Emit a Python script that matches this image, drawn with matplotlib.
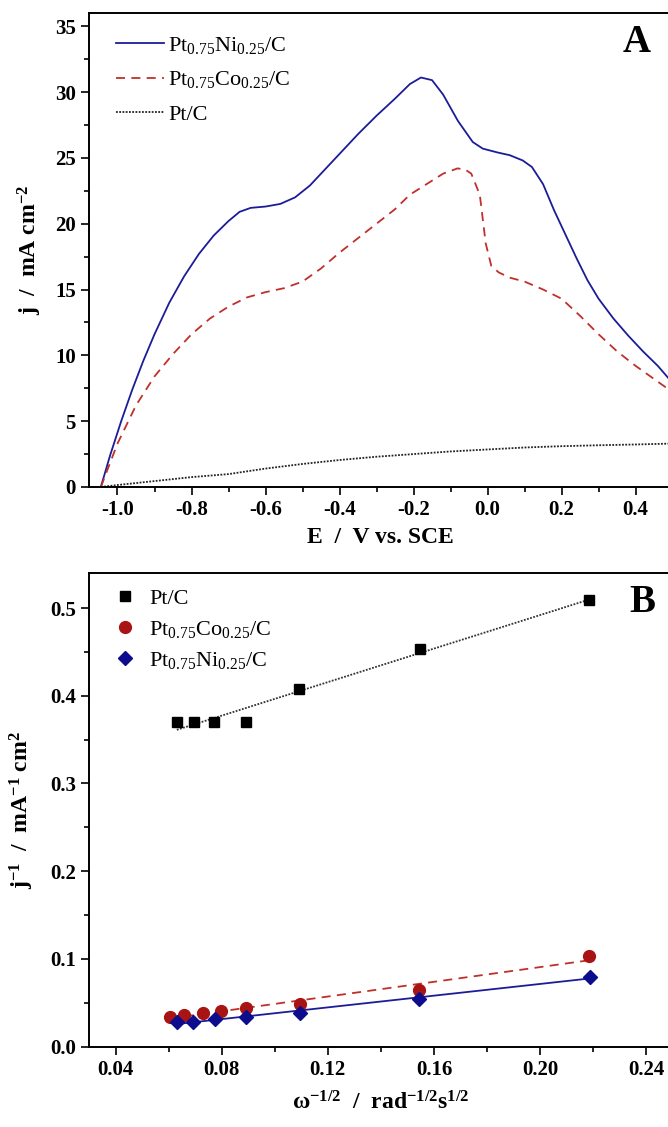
import numpy as np
import matplotlib
matplotlib.use("Agg")
import matplotlib.pyplot as plt
from matplotlib.ticker import MultipleLocator

plt.rcParams['font.family'] = ['Liberation Serif', 'DejaVu Serif']
plt.rcParams['mathtext.fontset'] = 'custom'
plt.rcParams['mathtext.rm'] = 'Liberation Serif'
plt.rcParams['mathtext.it'] = 'Liberation Serif:italic'
plt.rcParams['mathtext.bf'] = 'Liberation Serif:bold'
plt.rcParams['axes.unicode_minus'] = False

# ---------------- Panel A data ----------------
E_ni = [-1.045, -1.02, -0.99, -0.96, -0.93, -0.90, -0.86, -0.82, -0.78, -0.74, -0.70, -0.67, -0.64,
        -0.60, -0.56, -0.52, -0.48, -0.44, -0.40, -0.35, -0.30, -0.25, -0.21, -0.18, -0.15,
        -0.12, -0.08, -0.04, -0.013, 0.028, 0.06, 0.095, 0.12, 0.15, 0.18, 0.21, 0.24, 0.27,
        0.30, 0.34, 0.38, 0.42, 0.46, 0.50]
j_ni = [0.0, 2.4, 5.0, 7.4, 9.6, 11.6, 14.0, 16.0, 17.7, 19.1, 20.2, 20.9, 21.2,
        21.3, 21.5, 22.0, 22.9, 24.1, 25.3, 26.8, 28.2, 29.5, 30.6, 31.1, 30.9,
        29.8, 27.8, 26.2, 25.7, 25.4, 25.2, 24.8, 24.3, 23.0, 21.0, 19.2, 17.4, 15.7,
        14.3, 12.8, 11.5, 10.3, 9.2, 7.9]

E_co = [-1.045, -1.0, -0.95, -0.90, -0.85, -0.80, -0.75, -0.70, -0.65, -0.60, -0.55, -0.50,
        -0.45, -0.40, -0.35, -0.30, -0.25, -0.21, -0.165, -0.12, -0.081, -0.06, -0.044, -0.021,
        -0.005, 0.01, 0.03, 0.06, 0.10, 0.15, 0.20, 0.25, 0.30, 0.35, 0.40, 0.45, 0.50]
j_co = [0.0, 3.3, 6.2, 8.4, 10.1, 11.6, 12.8, 13.7, 14.4, 14.8, 15.1, 15.6,
        16.6, 17.8, 18.9, 20.0, 21.1, 22.2, 23.0, 23.8, 24.2, 24.1, 23.8, 22.2,
        18.5, 16.8, 16.3, 15.9, 15.6, 15.0, 14.3, 13.0, 11.6, 10.3, 9.2, 8.2, 7.2]

E_pt = [-1.045, -1.0, -0.9, -0.8, -0.7, -0.6, -0.5, -0.4, -0.3, -0.2, -0.1, 0.0, 0.1, 0.2, 0.3, 0.4, 0.5]
j_pt = [0.0, 0.15, 0.45, 0.75, 0.98, 1.4, 1.75, 2.05, 2.3, 2.5, 2.7, 2.85, 3.0, 3.1, 3.17, 3.23, 3.3]

# ---------------- Panel B data ----------------
w_pt = [0.0631, 0.0694, 0.0772, 0.0892, 0.1093, 0.1546, 0.2186]
inv_pt = [0.3706, 0.3706, 0.3706, 0.3706, 0.408, 0.4535, 0.509]

w_co = [0.0604, 0.0657, 0.0730, 0.0797, 0.0890, 0.1094, 0.1545, 0.2186]
inv_co = [0.0342, 0.0361, 0.0380, 0.0410, 0.0437, 0.0487, 0.0647, 0.1034]

w_ni = [0.0633, 0.0692, 0.0773, 0.0890, 0.1094, 0.1545, 0.2189]
inv_ni = [0.0274, 0.0285, 0.0316, 0.0335, 0.0380, 0.0540, 0.0798]

lab_ni = r'Pt$_{0.75}$Ni$_{0.25}$/C'
lab_co = r'Pt$_{0.75}$Co$_{0.25}$/C'
lab_pt = 'Pt/C'

blue = '#1c1c98'
red = '#c0302a'
dred = '#a81414'

W, H = 668, 1127
fig = plt.figure(figsize=(W / 100, H / 100), dpi=100)

def frac(l, t, r, b):
    return [l / W, 1 - b / H, (r - l) / W, (b - t) / H]

def style(ax):
    for s in ax.spines.values():
        s.set_linewidth(1.4)
    ax.tick_params(which='both', direction='out', top=False, right=False, width=1.2,
                   labelsize=15)
    ax.tick_params(which='major', length=6)
    ax.tick_params(which='minor', length=3.5)
    for lbl in ax.get_xticklabels() + ax.get_yticklabels():
        lbl.set_fontweight('bold')

# ---------------- Panel A ----------------
axA = fig.add_axes(frac(89, 13, 672.6, 487))
axA.plot(E_ni, j_ni, color=blue, lw=1.3, label=lab_ni)
axA.plot(E_co, j_co, color=red, lw=1.3, ls=(0, (5, 3.5)), label=lab_co)
axA.plot(E_pt, j_pt, color='#222222', lw=1.3, ls=(0, (1, 0.8)), label=lab_pt)
axA.set_xlim(-1.077, 0.5)
axA.set_ylim(0, 36)
axA.xaxis.set_major_locator(MultipleLocator(0.2))
axA.xaxis.set_minor_locator(MultipleLocator(0.1))
axA.yaxis.set_major_locator(MultipleLocator(5))
axA.yaxis.set_minor_locator(MultipleLocator(2.5))
axA.xaxis.set_major_formatter(matplotlib.ticker.FormatStrFormatter('%.1f'))
style(axA)
axA.set_xlabel('E  /  V vs. SCE', fontsize=17, fontweight='bold', labelpad=5)
axA.set_ylabel(r'j  /  mA cm$^{\mathbf{-2}}$', fontsize=17, fontweight='bold', labelpad=8)
axA.text(637, H - 43, 'A', transform=None, fontsize=28, fontweight='bold',
         ha='center', va='center')
axA.legend(loc='upper left', frameon=False, fontsize=16, handlelength=2.15,
           handletextpad=0.2, labelspacing=0.62, borderaxespad=0.3,
           bbox_to_anchor=(0.02, 0.987))

# ---------------- Panel B ----------------
axB = fig.add_axes(frac(89, 573, 672.8, 1046.5))
axB.plot(w_pt, inv_pt, 's', color='black', ms=7.5, label=lab_pt, zorder=3)
axB.plot(w_co, inv_co, 'o', color=dred, ms=8.5, label=lab_co, zorder=3)
axB.plot(w_ni, inv_ni, 'D', color='#0c0c8c', ms=7, label=lab_ni, zorder=3)

for xs, ys, c, ls in [(w_pt, inv_pt, '#333333', (0, (1, 0.8))),
                      (w_co, inv_co, red, (0, (5, 3.5))),
                      (w_ni, inv_ni, blue, '-')]:
    p = np.polyfit(xs, ys, 1)
    xx = np.array([min(xs), max(xs)])
    axB.plot(xx, np.polyval(p, xx), color=c, ls=ls, lw=1.3, zorder=2)

axB.set_xlim(0.03, 0.25)
axB.set_ylim(0, 0.54)
axB.xaxis.set_major_locator(MultipleLocator(0.04))
axB.xaxis.set_minor_locator(MultipleLocator(0.02))
axB.yaxis.set_major_locator(MultipleLocator(0.1))
axB.yaxis.set_minor_locator(MultipleLocator(0.05))
axB.xaxis.set_major_formatter(matplotlib.ticker.FormatStrFormatter('%.2f'))
axB.yaxis.set_major_formatter(matplotlib.ticker.FormatStrFormatter('%.1f'))
style(axB)
axB.set_xlabel('ω$^{\\mathbf{-1/2}}$  /  rad$^{\\mathbf{-1/2}}$s$^{\\mathbf{1/2}}$',
               fontsize=17, fontweight='bold', labelpad=8)
axB.set_ylabel(r'j$^{\mathbf{-1}}$  /  mA$^{\mathbf{-1}}$ cm$^{\mathbf{2}}$',
               fontsize=17, fontweight='bold', labelpad=10)
axB.text(642, H - 602, 'B', transform=None, fontsize=28, fontweight='bold',
         ha='center', va='center')
axB.legend(loc='upper left', frameon=False, fontsize=16, handlelength=1.2,
           handletextpad=0.5, labelspacing=0.45, borderaxespad=0.3,
           bbox_to_anchor=(0.012, 1.0))

fig.savefig('out.png', dpi=100)
